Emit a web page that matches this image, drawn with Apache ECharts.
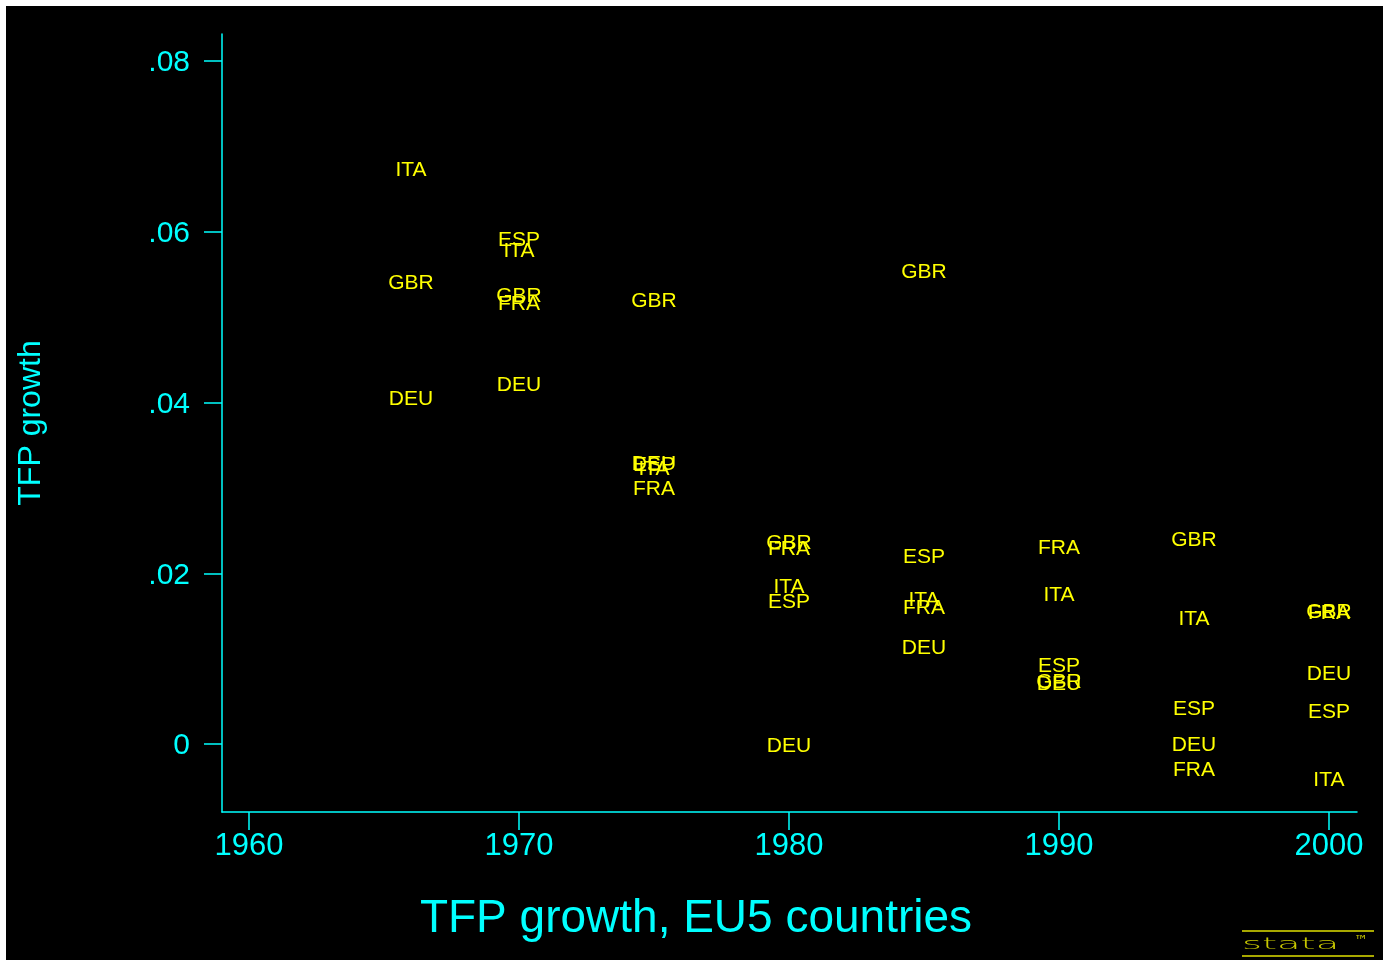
<!DOCTYPE html>
<html>
<head>
<meta charset="utf-8">
<script src="https://cdn.jsdelivr.net/npm/echarts@6/dist/echarts.min.js"></script>
<style>
html,body{margin:0;padding:0;background:#ffffff;}
#chart{position:absolute;left:6px;top:6px;width:1377px;height:954px;background:#000000;}
</style>
</head>
<body>
<div id="chart"></div>
<script>
const countries = ['ITA', 'GBR', 'DEU', 'ESP', 'FRA'];
const ITA = [[1966, 0.0674], [1970, 0.0580], [1975, 0.0324], [1980, 0.0186], [1985, 0.0171], [1990, 0.0177], [1995, 0.0148], [2000, -0.0040]];
const GBR = [[1966, 0.0542], [1970, 0.0527], [1975, 0.0521], [1980, 0.0237], [1985, 0.0555], [1990, 0.0075], [1995, 0.0241], [2000, 0.0157]];
const DEU = [[1966, 0.0406], [1970, 0.0423], [1975, 0.0330], [1980, 0.0000], [1985, 0.0114], [1990, 0.0073], [1995, 0.0001], [2000, 0.0084]];
const ESP = [[1970, 0.0593], [1975, 0.0329], [1980, 0.0169], [1985, 0.0221], [1990, 0.0093], [1995, 0.0043], [2000, 0.0040]];
const FRA = [[1970, 0.0518], [1975, 0.0301], [1980, 0.0230], [1985, 0.0162], [1990, 0.0232], [1995, -0.0028], [2000, 0.0156]];
const xTicks = [1960, 1970, 1980, 1990, 2000];
const yTicks = [0, 0.02, 0.04, 0.06, 0.08];
const titleText = 'TFP growth, EU5 countries';
const yTitle = 'TFP growth';

const seriesData = {ITA, GBR, DEU, ESP, FRA};
const CYAN = '#00FFFF';
const YELLOW = '#FFFF00';
const FONT = 'Liberation Sans, Arial, sans-serif';

const chart = echarts.init(document.getElementById('chart'));
chart.setOption({
  backgroundColor: '#000000',
  animation: false,
  grid: {left: 216, right: 26, top: 28, bottom: 148},
  xAxis: {
    type: 'value', min: 1959, max: 2001.04,
    splitLine: {show: false},
    axisLine: {show: true, onZero: false, lineStyle: {color: CYAN, width: 1.5}},
    axisTick: {show: true, length: 18, customValues: xTicks, lineStyle: {color: CYAN, width: 1.5}},
    axisLabel: {show: true, customValues: xTicks, color: CYAN, fontSize: 31, fontFamily: FONT, margin: 19,
      formatter: v => String(v)}
  },
  yAxis: {
    type: 'value', min: -0.00796, max: 0.08316,
    splitLine: {show: false},
    axisLine: {show: true, onZero: false, lineStyle: {color: CYAN, width: 1.5}},
    axisTick: {show: true, length: 18, customValues: yTicks, lineStyle: {color: CYAN, width: 1.5}},
    axisLabel: {
      show: true, customValues: yTicks, color: CYAN, fontSize: 30, fontFamily: FONT, margin: 32,
      formatter: v => '{a|' + (Math.abs(v) < 1e-9 ? '0' : v.toFixed(2).replace(/^0/, '')) + '}',
      rich: {a: {color: CYAN, fontSize: 30, fontFamily: FONT, padding: [4, 0, 0, 0]}}
    }
  },
  series: countries.map(c => ({
    type: 'scatter', name: c, data: seriesData[c],
    symbolSize: 0, silent: true,
    itemStyle: {opacity: 1},
    emphasis: {disabled: true},
    label: {show: true, position: 'inside', offset: [0, 2], formatter: c, color: YELLOW, opacity: 1,
      fontSize: 21, fontFamily: FONT}
  })),
  graphic: [
    {type: 'text', x: 690, y: 913, style: {text: titleText, fill: CYAN, font: '46px ' + FONT, textAlign: 'center', textVerticalAlign: 'middle'}},
    {type: 'text', x: 25, y: 417, rotation: Math.PI / 2, style: {text: yTitle, fill: CYAN, font: '32px ' + FONT, textAlign: 'center', textVerticalAlign: 'middle'}},
    {type: 'line', shape: {x1: 1236, y1: 925, x2: 1368, y2: 925}, style: {stroke: '#A8A800', lineWidth: 2}},
    {type: 'line', shape: {x1: 1236, y1: 950, x2: 1368, y2: 950}, style: {stroke: '#A8A800', lineWidth: 2}},
    {type: 'text', x: 1236, y: 939, scaleX: 2.4, style: {text: 'stata', fill: '#C8C800', font: '200 16px DejaVu Sans', textVerticalAlign: 'middle'}},
    {type: 'text', x: 1348, y: 935, style: {text: '\u2122', fill: '#C8C800', font: '14px DejaVu Sans', textVerticalAlign: 'middle'}}
  ]
});
</script>
</body>
</html>
